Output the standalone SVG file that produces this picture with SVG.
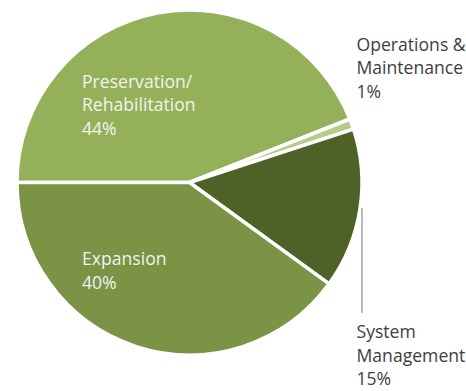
<svg xmlns="http://www.w3.org/2000/svg" width="466" height="391" viewBox="0 0 466 391">
<style>
.slice{stroke:#FFFFFF;stroke-width:3.5;stroke-linejoin:round}
.in{font-family:"Open Sans","Noto Sans","Liberation Sans",sans-serif;font-size:17.6px;fill:#F2F2F2}
.out{font-family:"Open Sans","Noto Sans","Liberation Sans",sans-serif;font-size:17.6px;fill:#404040}
.leader{stroke:#A6A6A6;stroke-width:1.5;fill:none}
</style>
<rect width="466" height="391" fill="#FFFFFF"/>
<g id="slice-preservation">
<path class="slice" fill="#94B159" d="M189.5,182.5 L17,182.5 A172.5,172.5 0 0 1 349.89,119.00 Z"/>
<text class="in" x="82" y="88">Preservation/</text>
<text class="in" x="82" y="111">Rehabilitation</text>
<text class="in" x="82" y="134.5">44%</text>
</g>
<g id="slice-operations">
<path class="slice" fill="#B3CC8C" d="M189.5,182.5 L349.89,119.00 A172.5,172.5 0 0 1 353.56,129.19 Z"/>
<text class="out" x="356.5" y="51">Operations &amp;</text>
<text class="out" x="356.5" y="74">Maintenance</text>
<text class="out" x="356.5" y="97.5">1%</text>
</g>
<g id="slice-system">
<path class="slice" fill="#4E6127" d="M189.5,182.5 L353.56,129.19 A172.5,172.5 0 0 1 329.06,283.89 Z"/>
<text class="out" x="356.5" y="338">System</text>
<text class="out" x="356.5" y="361.5">Management</text>
<text class="out" x="356.5" y="385">15%</text>
</g>
<g id="slice-expansion">
<path class="slice" fill="#7A9344" d="M189.5,182.5 L329.06,283.89 A172.5,172.5 0 0 1 17,182.5 Z"/>
<text class="in" x="82" y="265">Expansion</text>
<text class="in" x="82" y="289">40%</text>
</g>
<g id="connectors">
<line class="leader" x1="362" y1="208" x2="362" y2="313"/>
</g>
</svg>
